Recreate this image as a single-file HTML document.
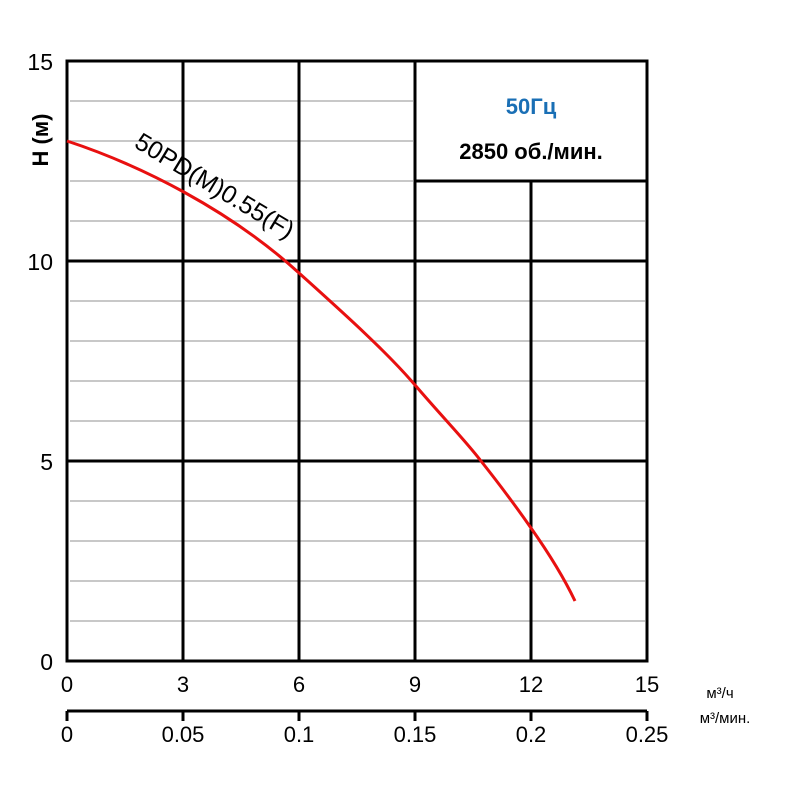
<!DOCTYPE html>
<html><head><meta charset="utf-8"><style>body{margin:0;background:#fff}</style></head><body>
<svg width="800" height="800" viewBox="0 0 800 800" xmlns="http://www.w3.org/2000/svg" font-family="Liberation Sans, sans-serif">
<g stroke="#c8c8c8" stroke-width="2">
<line x1="70" y1="101" x2="413" y2="101"/><line x1="70" y1="141" x2="413" y2="141"/><line x1="70" y1="181" x2="413" y2="181"/><line x1="70" y1="221" x2="645" y2="221"/>
<line x1="70" y1="301" x2="645" y2="301"/><line x1="70" y1="341" x2="645" y2="341"/><line x1="70" y1="381" x2="645" y2="381"/><line x1="70" y1="421" x2="645" y2="421"/>
<line x1="70" y1="501" x2="645" y2="501"/><line x1="70" y1="541" x2="645" y2="541"/><line x1="70" y1="581" x2="645" y2="581"/><line x1="70" y1="621" x2="645" y2="621"/>
</g>
<g stroke="#000" stroke-width="3" fill="none">
<rect x="67" y="61" width="580" height="600"/>
<line x1="183" y1="61" x2="183" y2="661"/><line x1="299" y1="61" x2="299" y2="661"/><line x1="415" y1="61" x2="415" y2="661"/><line x1="531" y1="181" x2="531" y2="661"/>
<line x1="67" y1="261" x2="647" y2="261"/><line x1="67" y1="461" x2="647" y2="461"/><line x1="415" y1="181" x2="647" y2="181"/>
<line x1="67" y1="711" x2="647" y2="711"/>
<line x1="67" y1="711" x2="67" y2="721"/><line x1="183" y1="711" x2="183" y2="721"/><line x1="299" y1="711" x2="299" y2="721"/><line x1="415" y1="711" x2="415" y2="721"/><line x1="531" y1="711" x2="531" y2="721"/><line x1="647" y1="711" x2="647" y2="721"/>
</g>
<path d="M67,141 C140,165 230,210 299,273 C340,310 385,350 415,385 C445,420 465,440 481,461 C500,485 515,505 531,528 C550,555 565,580 575,601" stroke="#e81010" stroke-width="3" fill="none"/>
<text x="214" y="194" font-size="25" text-anchor="middle" transform="rotate(31 214 187)">50PD(M)0.55(F)</text>
<text x="531" y="114" font-size="22" font-weight="bold" fill="#1a6fb5" text-anchor="middle">50Гц</text>
<text x="531" y="159" font-size="22" font-weight="bold" text-anchor="middle">2850 об./мин.</text>
<g font-size="23" text-anchor="end">
<text x="53" y="70">15</text><text x="53" y="270">10</text><text x="53" y="470">5</text><text x="53" y="670">0</text>
</g>
<text transform="translate(48,140) rotate(-90)" font-size="22" font-weight="bold" text-anchor="middle">H (м)</text>
<g font-size="22" text-anchor="middle">
<text x="67" y="692">0</text><text x="183" y="692">3</text><text x="299" y="692">6</text><text x="415" y="692">9</text><text x="531" y="692">12</text><text x="647" y="692">15</text>
<text x="67" y="742">0</text><text x="183" y="742">0.05</text><text x="299" y="742">0.1</text><text x="415" y="742">0.15</text><text x="531" y="742">0.2</text><text x="647" y="742">0.25</text>
</g>
<text x="720" y="698" font-size="15" text-anchor="middle">м³/ч</text>
<text x="725" y="723" font-size="15" text-anchor="middle">м³/мин.</text>
</svg>
</body></html>
